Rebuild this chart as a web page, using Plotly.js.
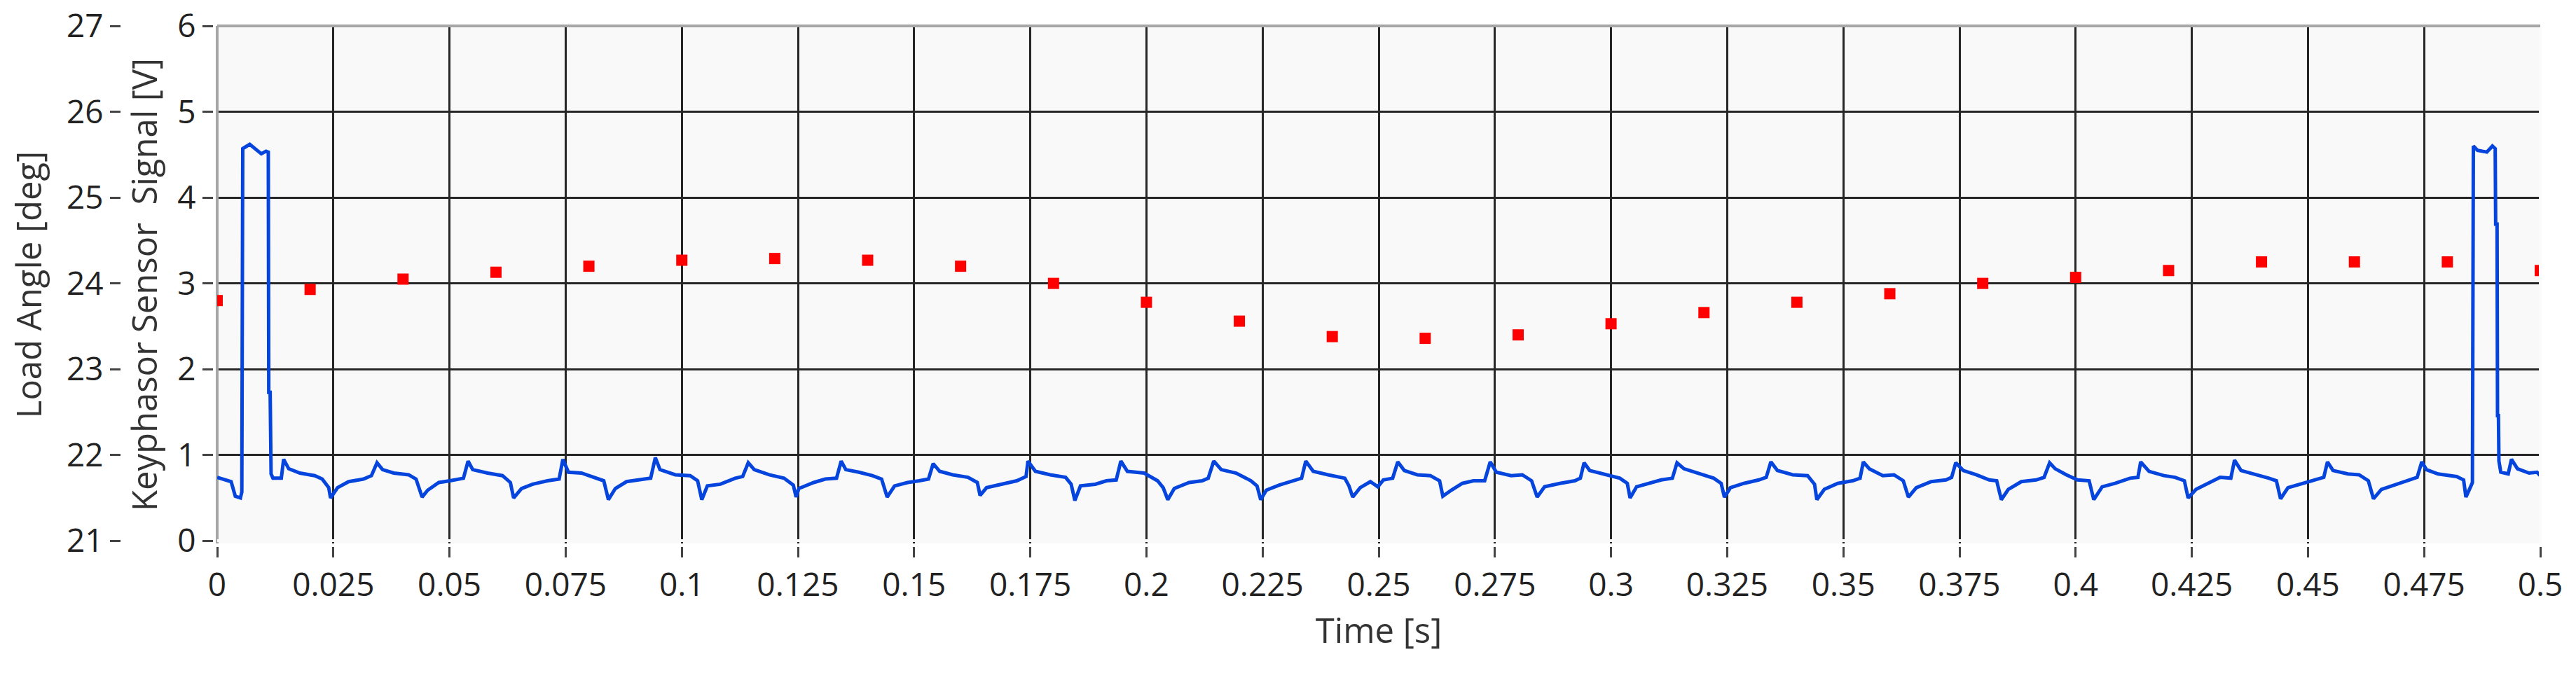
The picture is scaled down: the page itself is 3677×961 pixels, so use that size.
<!DOCTYPE html>
<html>
<head>
<meta charset="utf-8">
<script src="https://cdn.plot.ly/plotly-3.0.1.min.js"></script>
<style>
  html, body { margin: 0; padding: 0; background: #fff; }
  #chart { width: 3677px; height: 961px; }
</style>
</head>
<body>
<div id="chart"></div>
<script>
// keyphasor signal
const timeS = [
  0.0000, 0.0015, 0.0030, 0.0039, 0.0050, 0.0053, 0.0055, 0.0070, 0.0095, 0.0105, 0.0110, 0.0111, 0.0114, 0.0116, 0.0120, 0.0138,
  0.0143, 0.0154, 0.0178, 0.0210, 0.0226, 0.0240, 0.0244, 0.0259, 0.0283, 0.0315, 0.0332,
  0.0344, 0.0356, 0.0380, 0.0412, 0.0428, 0.0441, 0.0453, 0.0477, 0.0501, 0.0530,
  0.0540, 0.0550, 0.0582, 0.0614, 0.0631, 0.0638, 0.0655, 0.0679, 0.0711, 0.0736,
  0.0744, 0.0756, 0.0784, 0.0816, 0.0832, 0.0842, 0.0857, 0.0881, 0.0913, 0.0933,
  0.0943, 0.0953, 0.0986, 0.1018, 0.1034, 0.1043, 0.1055, 0.1083, 0.1115, 0.1131,
  0.1143, 0.1156, 0.1188, 0.1220, 0.1240, 0.1246, 0.1252, 0.1284, 0.1309, 0.1333,
  0.1343, 0.1353, 0.1381, 0.1410, 0.1430, 0.1442, 0.1458, 0.1486, 0.1511, 0.1531,
  0.1541, 0.1555, 0.1583, 0.1616, 0.1636, 0.1642, 0.1656, 0.1688, 0.1721, 0.1741,
  0.1745, 0.1761, 0.1793, 0.1826, 0.1838, 0.1846, 0.1858, 0.1890, 0.1914, 0.1935,
  0.1945, 0.1959, 0.1995, 0.2024, 0.2036, 0.2046, 0.2060, 0.2092, 0.2120, 0.2133,
  0.2145, 0.2161, 0.2193, 0.2225, 0.2238, 0.2246, 0.2258, 0.2286, 0.2318, 0.2334,
  0.2343, 0.2359, 0.2391, 0.2427, 0.2436, 0.2444, 0.2460, 0.2482, 0.2498, 0.2510, 0.2530,
  0.2541, 0.2555, 0.2583, 0.2611, 0.2631, 0.2638, 0.2656, 0.2680, 0.2704, 0.2728,
  0.2740, 0.2753, 0.2785, 0.2809, 0.2829, 0.2841, 0.2857, 0.2890, 0.2922, 0.2934,
  0.2942, 0.2954, 0.2987, 0.3019, 0.3035, 0.3041, 0.3055, 0.3084, 0.3108, 0.3132,
  0.3142, 0.3157, 0.3189, 0.3221, 0.3237, 0.3244, 0.3257, 0.3286, 0.3318, 0.3334,
  0.3344, 0.3358, 0.3391, 0.3423, 0.3438, 0.3443, 0.3459, 0.3488, 0.3520, 0.3536,
  0.3543, 0.3556, 0.3585, 0.3609, 0.3629, 0.3640, 0.3657, 0.3689, 0.3721, 0.3733,
  0.3742, 0.3758, 0.3786, 0.3814, 0.3830, 0.3840, 0.3855, 0.3883, 0.3915, 0.3932,
  0.3944, 0.3956, 0.3980, 0.4004, 0.4029, 0.4039, 0.4057, 0.4085, 0.4117, 0.4134,
  0.4140, 0.4158, 0.4190, 0.4214, 0.4234, 0.4242, 0.4259, 0.4287, 0.4311, 0.4334,
  0.4342, 0.4356, 0.4384, 0.4416, 0.4432, 0.4441, 0.4457, 0.4489, 0.4521, 0.4534,
  0.4542, 0.4554, 0.4586, 0.4610, 0.4630, 0.4641, 0.4658, 0.4690, 0.4722, 0.4735,
  0.4745, 0.4755, 0.4780, 0.4820, 0.4835, 0.4840, 0.4850, 0.4854, 0.4856, 0.4865, 0.4885, 0.4897,
  0.4903, 0.4904, 0.4907, 0.4908, 0.4910, 0.4911, 0.4915, 0.4931, 0.4938, 0.4951, 0.4976, 0.4993, 0.5000
];
const keyphasorV = [
  0.74, 0.72, 0.69, 0.52, 0.50, 0.57, 4.57, 4.62, 4.51, 4.54, 4.53, 1.73, 1.73, 0.78, 0.73, 0.73,
  0.95, 0.84, 0.79, 0.76, 0.72, 0.62, 0.50, 0.62, 0.69, 0.72, 0.76,
  0.91, 0.83, 0.79, 0.77, 0.72, 0.51, 0.59, 0.68, 0.70, 0.73,
  0.93, 0.83, 0.79, 0.76, 0.68, 0.50, 0.61, 0.66, 0.70, 0.72,
  0.95, 0.80, 0.79, 0.73, 0.70, 0.48, 0.61, 0.69, 0.72, 0.73,
  0.97, 0.83, 0.77, 0.76, 0.70, 0.48, 0.64, 0.66, 0.73, 0.75,
  0.91, 0.83, 0.77, 0.73, 0.65, 0.51, 0.61, 0.68, 0.72, 0.73,
  0.93, 0.83, 0.80, 0.76, 0.72, 0.51, 0.64, 0.68, 0.70, 0.72,
  0.90, 0.81, 0.77, 0.74, 0.68, 0.53, 0.62, 0.66, 0.70, 0.75,
  0.93, 0.81, 0.77, 0.74, 0.66, 0.47, 0.64, 0.66, 0.70, 0.71,
  0.93, 0.81, 0.79, 0.70, 0.62, 0.48, 0.61, 0.68, 0.70, 0.73,
  0.93, 0.83, 0.79, 0.70, 0.64, 0.48, 0.59, 0.65, 0.70, 0.73,
  0.93, 0.81, 0.77, 0.73, 0.64, 0.51, 0.62, 0.69, 0.63, 0.71, 0.73,
  0.92, 0.82, 0.77, 0.76, 0.70, 0.52, 0.59, 0.67, 0.70, 0.70,
  0.92, 0.80, 0.76, 0.77, 0.70, 0.51, 0.63, 0.67, 0.70, 0.73,
  0.91, 0.82, 0.77, 0.73, 0.67, 0.50, 0.63, 0.67, 0.71, 0.73,
  0.91, 0.84, 0.78, 0.73, 0.67, 0.51, 0.62, 0.67, 0.71, 0.74,
  0.92, 0.82, 0.77, 0.76, 0.66, 0.48, 0.60, 0.67, 0.70, 0.73,
  0.92, 0.84, 0.76, 0.77, 0.70, 0.51, 0.62, 0.69, 0.71, 0.74,
  0.91, 0.82, 0.77, 0.71, 0.70, 0.48, 0.60, 0.69, 0.71, 0.74,
  0.91, 0.84, 0.77, 0.71, 0.70, 0.48, 0.63, 0.67, 0.73, 0.74,
  0.92, 0.81, 0.76, 0.74, 0.70, 0.50, 0.60, 0.67, 0.74, 0.73,
  0.94, 0.82, 0.78, 0.73, 0.70, 0.49, 0.62, 0.67, 0.71, 0.74,
  0.92, 0.82, 0.78, 0.77, 0.70, 0.49, 0.60, 0.66, 0.71, 0.74,
  0.92, 0.83, 0.78, 0.75, 0.71, 0.51, 0.63, 0.68, 4.60, 4.55, 4.53, 4.60,
  4.57, 3.69, 3.69, 1.46, 1.46, 0.93, 0.80, 0.78, 0.95, 0.84, 0.79, 0.80, 0.76
];

// load angle samples (one every 20 ms)
const angleTime = [0, 0.02, 0.04, 0.06, 0.08, 0.1, 0.12, 0.14, 0.16, 0.18, 0.2, 0.22, 0.24,
  0.26, 0.28, 0.3, 0.32, 0.34, 0.36, 0.38, 0.4, 0.42, 0.44, 0.46, 0.48, 0.5];
const loadAngleDeg = [23.80, 23.93, 24.05, 24.13, 24.20, 24.27, 24.29, 24.27, 24.20, 24.00, 23.78, 23.56, 23.38,
  23.36, 23.40, 23.53, 23.66, 23.78, 23.88, 24.00, 24.07, 24.15, 24.25, 24.25, 24.25, 24.15];

const gridColor = '#262626';
const tickColor = '#444';
const titleFont = { family: 'Open Sans, sans-serif', size: 49, color: '#333' };

const signal = {
  x: timeS,
  y: keyphasorV,
  type: 'scatter',
  mode: 'lines',
  line: { color: '#0545dd', width: 5 },
  xaxis: 'x',
  yaxis: 'y',
  hoverinfo: 'skip'
};

const angle = {
  x: angleTime,
  y: loadAngleDeg,
  type: 'scatter',
  mode: 'markers',
  marker: { symbol: 'square', size: 16, color: '#ff0000' },
  xaxis: 'x',
  yaxis: 'y2',
  hoverinfo: 'skip'
};

const layout = {
  width: 3677,
  height: 961,
  margin: { l: 0, r: 51, t: 37, b: 181, pad: 0 },
  paper_bgcolor: '#ffffff',
  plot_bgcolor: '#f9f9f9',
  showlegend: false,
  font: { family: 'Open Sans, sans-serif', size: 46, color: '#222' },
  xaxis: {
    domain: [0.0855, 1],
    range: [0, 0.5],
    anchor: 'free',
    position: 0,
    tick0: 0,
    dtick: 0.025,
    ticks: 'outside',
    ticklen: 15,
    tickwidth: 3,
    tickcolor: tickColor,
    showgrid: true,
    gridcolor: gridColor,
    gridwidth: 3,
    zeroline: true,
    zerolinecolor: '#a6a6a6',
    zerolinewidth: 4,
    showline: false,
    title: { text: 'Time [s]', font: titleFont, standoff: 20 }
  },
  yaxis: {
    domain: [0.0054, 1],
    range: [-0.03, 6],
    anchor: 'free',
    position: 0.0838,
    dtick: 1,
    ticks: 'outside',
    ticklen: 15,
    tickwidth: 3,
    tickcolor: tickColor,
    showgrid: true,
    gridcolor: gridColor,
    gridwidth: 3,
    zeroline: true,
    zerolinecolor: '#f9f9f9',
    zerolinewidth: 4,
    showline: false,
    title: { text: 'Keyphasor Sensor\u00a0 Signal [V]', font: titleFont, standoff: 12 }
  },
  yaxis2: {
    overlaying: 'y',
    side: 'left',
    anchor: 'free',
    position: 0.0474,
    range: [20.97, 27],
    dtick: 1,
    ticks: 'outside',
    ticklen: 15,
    tickwidth: 3,
    tickcolor: tickColor,
    showgrid: false,
    zeroline: false,
    showline: false,
    title: { text: 'Load Angle [deg]', font: titleFont, standoff: 18 }
  },
  shapes: [
    // top frame edge
    { type: 'line', xref: 'x domain', yref: 'y domain', x0: 0, x1: 1, y0: 1, y1: 1,
      line: { color: '#a6a6a6', width: 4 } },
    // hide the grid line on the right edge
    { type: 'line', xref: 'x domain', yref: 'y domain', x0: 1, x1: 1, y0: 0, y1: 0.997,
      line: { color: '#fbfbfb', width: 4 } }
  ]
};

Plotly.newPlot('chart', [signal, angle], layout, { staticPlot: true, displayModeBar: false });
</script>
</body>
</html>
